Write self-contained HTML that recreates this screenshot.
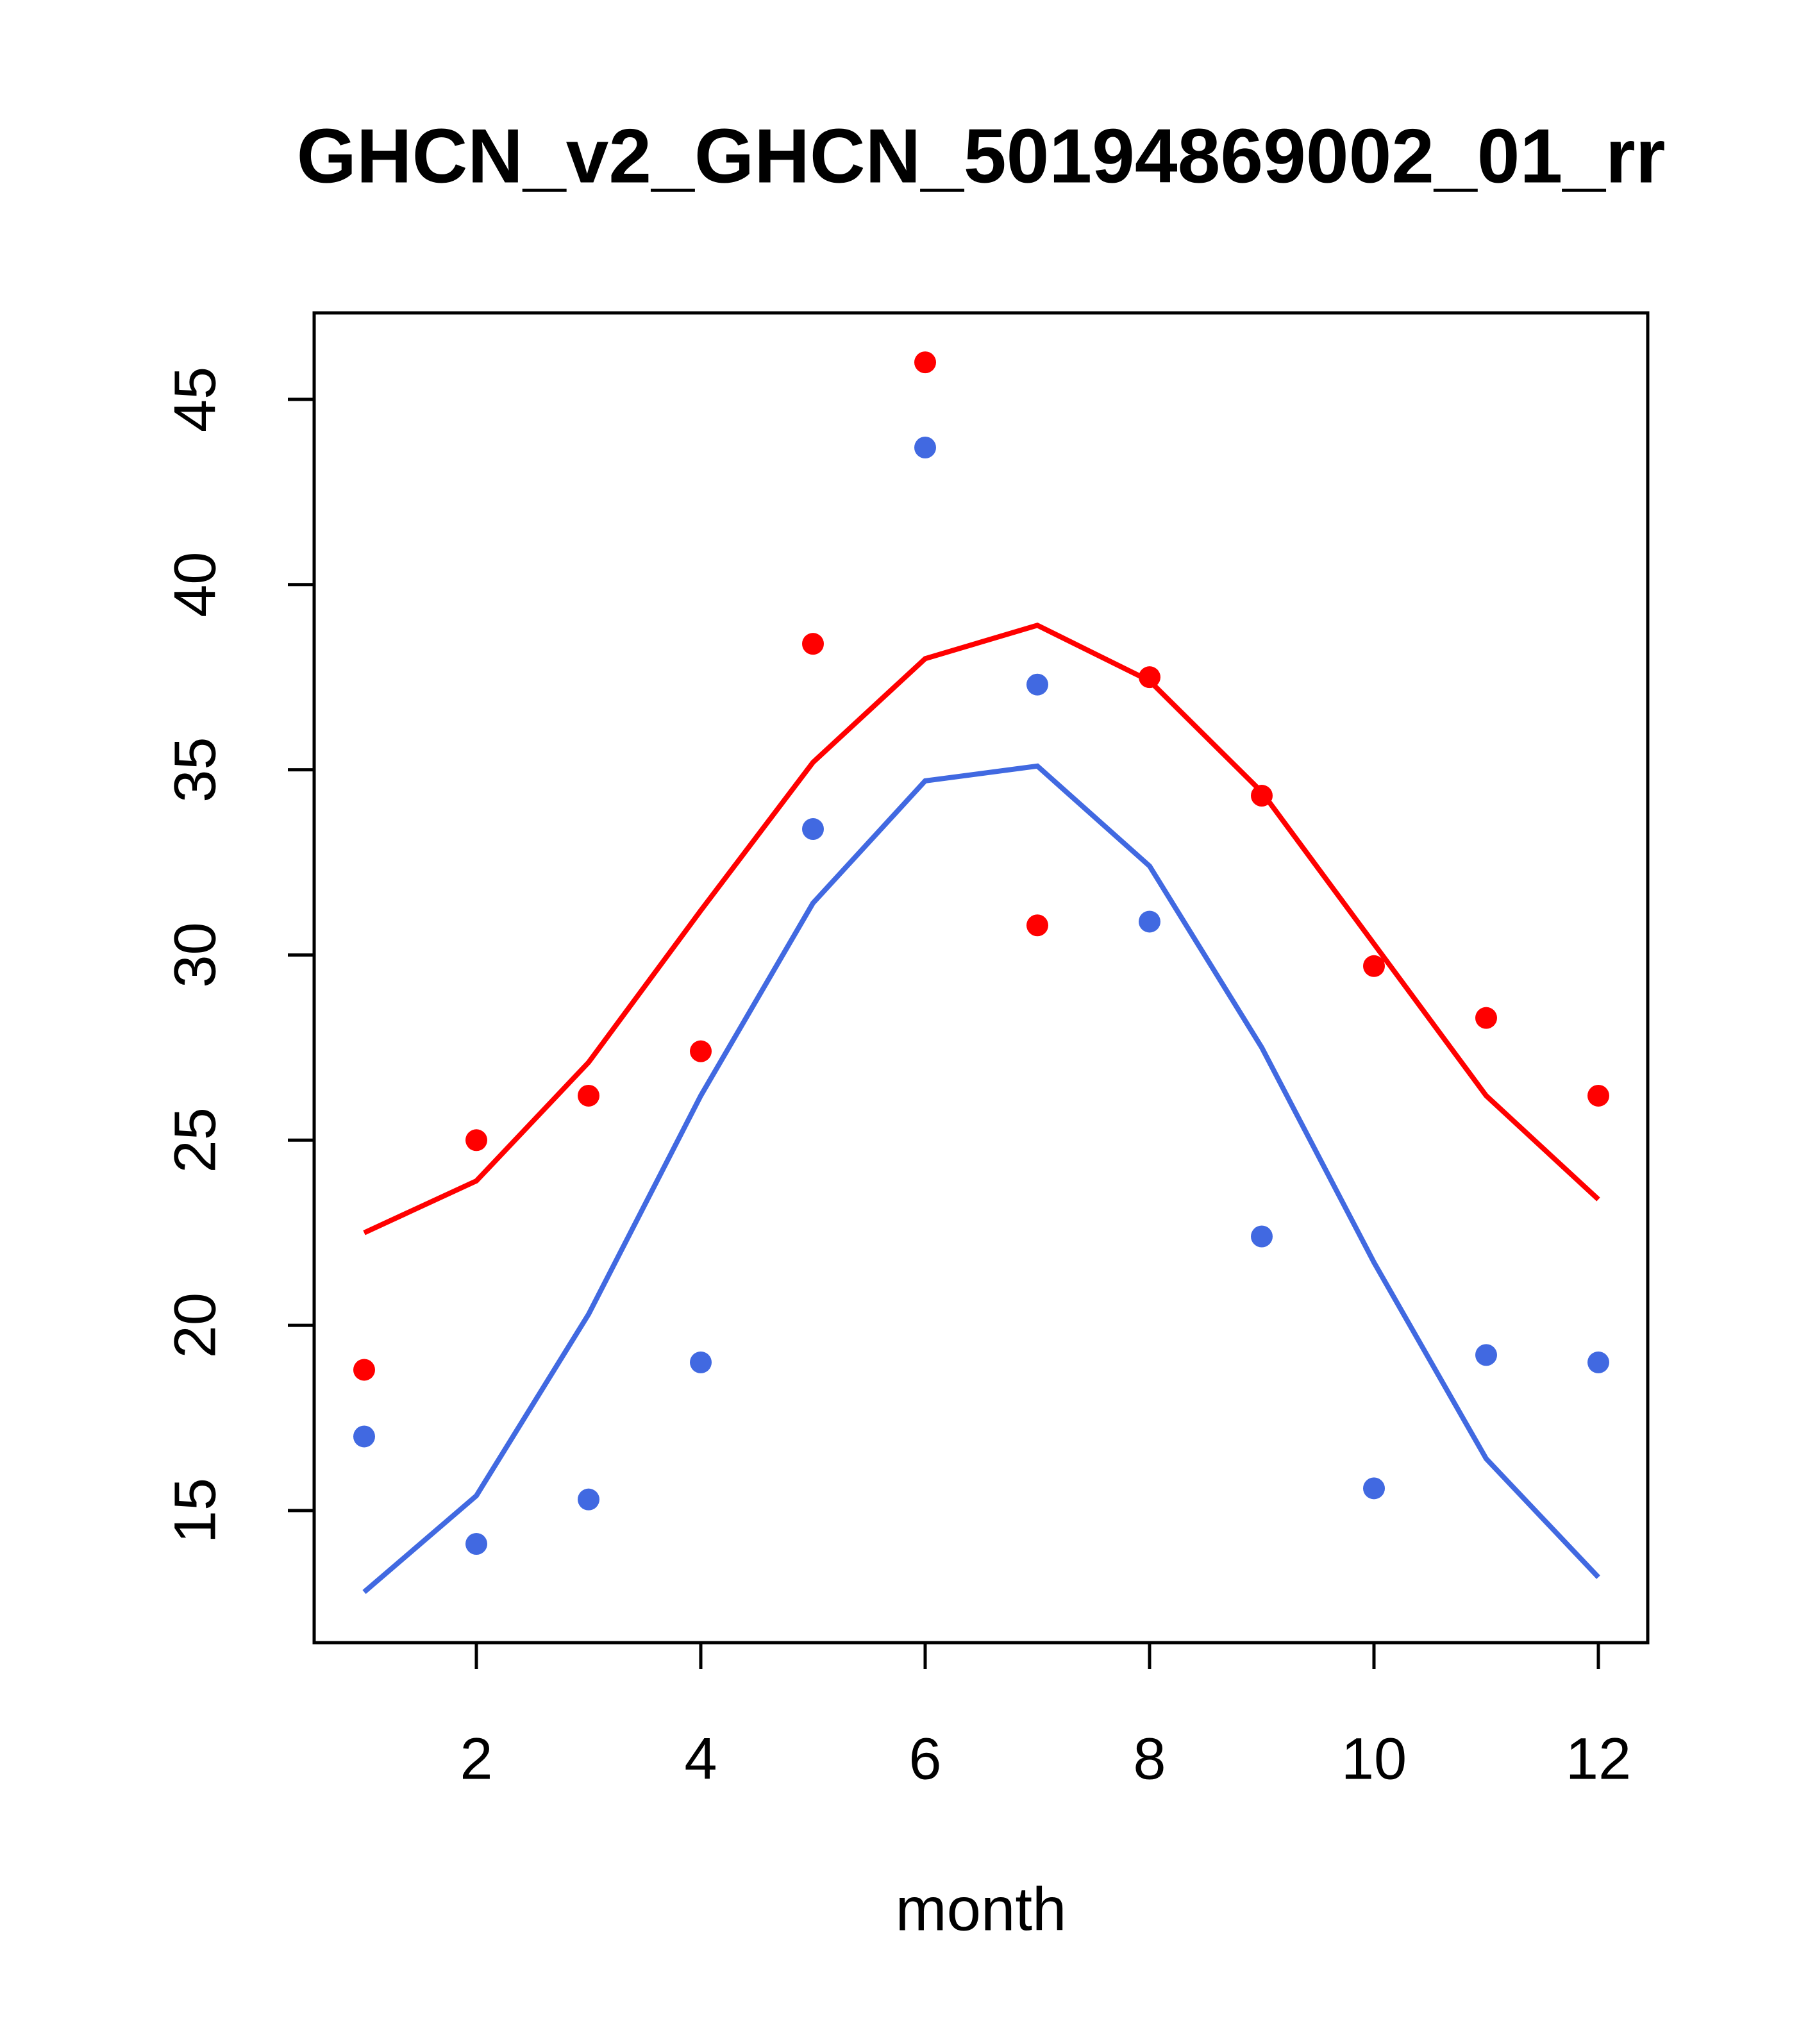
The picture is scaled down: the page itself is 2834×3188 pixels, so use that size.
<!DOCTYPE html>
<html><head><meta charset="utf-8"><style>
html,body{margin:0;padding:0;background:#fff;}
svg{display:block;font-family:"Liberation Sans",Arial,sans-serif;}
</style></head><body>
<svg id="chart" width="2834" height="3188" viewBox="0 0 2834 3188" xmlns="http://www.w3.org/2000/svg">
<rect width="2834" height="3188" fill="#fff"/>
<text x="1530" y="253" font-size="120" font-weight="bold" text-anchor="middle" dominant-baseline="middle">GHCN_v2_GHCN_50194869002_01_rr</text>
<rect x="490" y="488" width="2080" height="2074" fill="none" stroke="#000" stroke-width="5"/>
<text x="1530" y="2985" font-size="96" text-anchor="middle" dominant-baseline="middle">month</text>
<g id="xaxis"></g>
<g id="yaxis"></g>
<g id="series"></g>
</svg>
<script>
const months = [1,2,3,4,5,6,7,8,9,10,11,12];
const redPoints = [18.8,25.0,26.2,27.4,38.4,46.0,30.8,37.5,34.3,29.7,28.3,26.2];
const redLine = [22.5,23.9,27.1,31.2,35.2,38.0,38.9,37.4,34.4,30.3,26.2,23.4];
const bluePoints = [17.0,14.1,15.3,19.0,33.4,43.7,37.3,30.9,22.4,15.6,19.2,19.0];
const blueLine = [12.8,15.4,20.3,26.2,31.4,34.7,35.1,32.4,27.5,21.7,16.4,13.2];
const xTicks = [2,4,6,8,10,12];
const yTicks = [15,20,25,30,35,40,45];

const NS="http://www.w3.org/2000/svg";
function xs(v){return 743+(v-2)*175;}
function ys(v){return 2356-(v-15)*57.77;}
function mk(tag,attrs,parent){const e=document.createElementNS(NS,tag);for(const k in attrs)e.setAttribute(k,attrs[k]);parent.appendChild(e);return e;}
const xa=document.getElementById('xaxis'),ya=document.getElementById('yaxis'),sr=document.getElementById('series');
xTicks.forEach(t=>{
  const l=mk('line',{x1:xs(t),x2:xs(t),y1:2562,y2:2603,stroke:'#000','stroke-width':5},xa);
  
  
  const tx=mk('text',{x:xs(t),y:2750,'font-size':92,'text-anchor':'middle','dominant-baseline':'middle'},xa);
  tx.textContent=t;
  
  
});
yTicks.forEach(t=>{
  const l=mk('line',{x1:449,x2:490,y1:ys(t),y2:ys(t),stroke:'#000','stroke-width':5},ya);
  
  
  const tx=mk('text',{x:0,y:0,'font-size':92,'text-anchor':'middle','dominant-baseline':'middle',transform:`translate(311,${ys(t)}) rotate(-90)`},ya);
  tx.textContent=t;
  
  
});
function line(vals,color,name){
  const p=mk('polyline',{points:vals.map((v,i)=>xs(months[i])+','+ys(v)).join(' '),fill:'none',stroke:color,'stroke-width':8},sr);
  
  
}
function pts(vals,color,name){
  vals.forEach((v,i)=>{
    const c=mk('circle',{cx:xs(months[i]),cy:ys(v),r:17,fill:color},sr);
    
    
  });
}
line(redLine,'#ff0000','red-line');
line(blueLine,'#4169e1','blue-line');
pts(redPoints,'#ff0000','red-point');
pts(bluePoints,'#4169e1','blue-point');
</script>
</body></html>
